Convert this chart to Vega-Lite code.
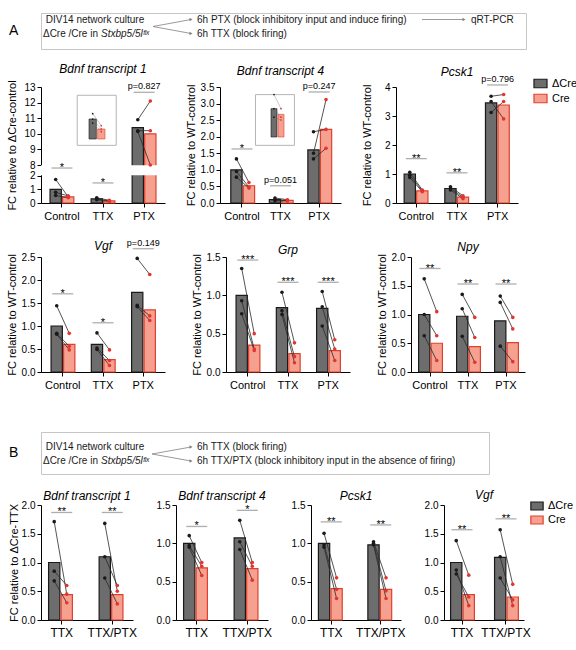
{
"$schema": "https://vega.github.io/schema/vega-lite/v6.json",
"padding": {"left": 5, "top": 12, "right": 2, "bottom": 2},
"background": "white",
"spacing": 0,
"config": {
  "font": "Liberation Sans",
  "view": {"stroke": null},
  "axis": {"grid": false, "domainColor": "#000", "domainWidth": 1, "tickColor": "#000", "tickSize": 4, "labelColor": "#000", "labelFontSize": 10, "titleFontSize": 11, "titleFontWeight": "normal", "titleColor": "#000", "labelPadding": 2, "labelOverlap": false},
  "axisX": {"labelAngle": 0, "labelFontSize": 11, "labelPadding": 3},
  "axisY": {"titlePadding": 2, "minExtent": 22, "maxExtent": 22},
  "title": {"fontSize": 12, "fontStyle": "italic", "fontWeight": "normal", "color": "#000", "offset": 13, "frame": "group"},
  "legend": {"title": null, "symbolType": "M-1,-0.65L1,-0.65L1,0.65L-1,0.65Z", "symbolSize": 170, "symbolStrokeWidth": 1.2, "labelFontSize": 11, "labelColor": "#000", "labelOffset": 4, "rowPadding": 0, "padding": 0, "symbolOpacity": 1}
},
"datasets": {
"bars": [
{"panel":"b1A","condition":"Control","genotype":"ΔCre","value":1.0},
{"panel":"b1A","condition":"Control","genotype":"Cre","value":0.45},
{"panel":"b1A","condition":"TTX","genotype":"ΔCre","value":0.3},
{"panel":"b1A","condition":"TTX","genotype":"Cre","value":0.15},
{"panel":"b1A","condition":"PTX","genotype":"ΔCre","value":10.4},
{"panel":"b1A","condition":"PTX","genotype":"Cre","value":10.0},
{"panel":"b4A","condition":"Control","genotype":"ΔCre","value":1.0},
{"panel":"b4A","condition":"Control","genotype":"Cre","value":0.52},
{"panel":"b4A","condition":"TTX","genotype":"ΔCre","value":0.1},
{"panel":"b4A","condition":"TTX","genotype":"Cre","value":0.08},
{"panel":"b4A","condition":"PTX","genotype":"ΔCre","value":1.6},
{"panel":"b4A","condition":"PTX","genotype":"Cre","value":2.22},
{"panel":"pcA","condition":"Control","genotype":"ΔCre","value":1.0},
{"panel":"pcA","condition":"Control","genotype":"Cre","value":0.42},
{"panel":"pcA","condition":"TTX","genotype":"ΔCre","value":0.5},
{"panel":"pcA","condition":"TTX","genotype":"Cre","value":0.2},
{"panel":"pcA","condition":"PTX","genotype":"ΔCre","value":3.45},
{"panel":"pcA","condition":"PTX","genotype":"Cre","value":3.38},
{"panel":"vgA","condition":"Control","genotype":"ΔCre","value":1.0},
{"panel":"vgA","condition":"Control","genotype":"Cre","value":0.6},
{"panel":"vgA","condition":"TTX","genotype":"ΔCre","value":0.6},
{"panel":"vgA","condition":"TTX","genotype":"Cre","value":0.27},
{"panel":"vgA","condition":"PTX","genotype":"ΔCre","value":1.73},
{"panel":"vgA","condition":"PTX","genotype":"Cre","value":1.35},
{"panel":"grA","condition":"Control","genotype":"ΔCre","value":1.0},
{"panel":"grA","condition":"Control","genotype":"Cre","value":0.35},
{"panel":"grA","condition":"TTX","genotype":"ΔCre","value":0.84},
{"panel":"grA","condition":"TTX","genotype":"Cre","value":0.24},
{"panel":"grA","condition":"PTX","genotype":"ΔCre","value":0.83},
{"panel":"grA","condition":"PTX","genotype":"Cre","value":0.28},
{"panel":"npA","condition":"Control","genotype":"ΔCre","value":1.0},
{"panel":"npA","condition":"Control","genotype":"Cre","value":0.5},
{"panel":"npA","condition":"TTX","genotype":"ΔCre","value":0.97},
{"panel":"npA","condition":"TTX","genotype":"Cre","value":0.44},
{"panel":"npA","condition":"PTX","genotype":"ΔCre","value":0.89},
{"panel":"npA","condition":"PTX","genotype":"Cre","value":0.51},
{"panel":"b1B","condition":"TTX","genotype":"ΔCre","value":1.0},
{"panel":"b1B","condition":"TTX","genotype":"Cre","value":0.44},
{"panel":"b1B","condition":"TTX/PTX","genotype":"ΔCre","value":1.1},
{"panel":"b1B","condition":"TTX/PTX","genotype":"Cre","value":0.44},
{"panel":"b4B","condition":"TTX","genotype":"ΔCre","value":1.0},
{"panel":"b4B","condition":"TTX","genotype":"Cre","value":0.68},
{"panel":"b4B","condition":"TTX/PTX","genotype":"ΔCre","value":1.07},
{"panel":"b4B","condition":"TTX/PTX","genotype":"Cre","value":0.67},
{"panel":"pcB","condition":"TTX","genotype":"ΔCre","value":1.0},
{"panel":"pcB","condition":"TTX","genotype":"Cre","value":0.41},
{"panel":"pcB","condition":"TTX/PTX","genotype":"ΔCre","value":0.98},
{"panel":"pcB","condition":"TTX/PTX","genotype":"Cre","value":0.4},
{"panel":"vgB","condition":"TTX","genotype":"ΔCre","value":1.0},
{"panel":"vgB","condition":"TTX","genotype":"Cre","value":0.44},
{"panel":"vgB","condition":"TTX/PTX","genotype":"ΔCre","value":1.09},
{"panel":"vgB","condition":"TTX/PTX","genotype":"Cre","value":0.4}
],
"dots": [
{"panel":"b1A","condition":"Control","genotype":"ΔCre","replicate":1,"value":1.72},
{"panel":"b1A","condition":"Control","genotype":"ΔCre","replicate":2,"value":0.78},
{"panel":"b1A","condition":"Control","genotype":"ΔCre","replicate":3,"value":0.55},
{"panel":"b1A","condition":"Control","genotype":"Cre","replicate":1,"value":0.45},
{"panel":"b1A","condition":"Control","genotype":"Cre","replicate":2,"value":0.52},
{"panel":"b1A","condition":"Control","genotype":"Cre","replicate":3,"value":0.38},
{"panel":"b1A","condition":"TTX","genotype":"ΔCre","replicate":1,"value":0.38},
{"panel":"b1A","condition":"TTX","genotype":"ΔCre","replicate":2,"value":0.3},
{"panel":"b1A","condition":"TTX","genotype":"ΔCre","replicate":3,"value":0.24},
{"panel":"b1A","condition":"TTX","genotype":"Cre","replicate":1,"value":0.2},
{"panel":"b1A","condition":"TTX","genotype":"Cre","replicate":2,"value":0.15},
{"panel":"b1A","condition":"TTX","genotype":"Cre","replicate":3,"value":0.11},
{"panel":"b1A","condition":"PTX","genotype":"ΔCre","replicate":1,"value":10.9},
{"panel":"b1A","condition":"PTX","genotype":"ΔCre","replicate":2,"value":10.2},
{"panel":"b1A","condition":"PTX","genotype":"ΔCre","replicate":3,"value":10.15},
{"panel":"b1A","condition":"PTX","genotype":"Cre","replicate":1,"value":12.1},
{"panel":"b1A","condition":"PTX","genotype":"Cre","replicate":2,"value":10.2},
{"panel":"b1A","condition":"PTX","genotype":"Cre","replicate":3,"value":8.0},
{"panel":"b4A","condition":"Control","genotype":"ΔCre","replicate":1,"value":1.33},
{"panel":"b4A","condition":"Control","genotype":"ΔCre","replicate":2,"value":0.95},
{"panel":"b4A","condition":"Control","genotype":"ΔCre","replicate":3,"value":0.78},
{"panel":"b4A","condition":"Control","genotype":"Cre","replicate":1,"value":0.62},
{"panel":"b4A","condition":"Control","genotype":"Cre","replicate":2,"value":0.48},
{"panel":"b4A","condition":"Control","genotype":"Cre","replicate":3,"value":0.45},
{"panel":"b4A","condition":"TTX","genotype":"ΔCre","replicate":1,"value":0.15},
{"panel":"b4A","condition":"TTX","genotype":"ΔCre","replicate":2,"value":0.1},
{"panel":"b4A","condition":"TTX","genotype":"ΔCre","replicate":3,"value":0.07},
{"panel":"b4A","condition":"TTX","genotype":"Cre","replicate":1,"value":0.1},
{"panel":"b4A","condition":"TTX","genotype":"Cre","replicate":2,"value":0.07},
{"panel":"b4A","condition":"TTX","genotype":"Cre","replicate":3,"value":0.06},
{"panel":"b4A","condition":"PTX","genotype":"ΔCre","replicate":1,"value":2.15},
{"panel":"b4A","condition":"PTX","genotype":"ΔCre","replicate":2,"value":1.5},
{"panel":"b4A","condition":"PTX","genotype":"ΔCre","replicate":3,"value":1.33},
{"panel":"b4A","condition":"PTX","genotype":"Cre","replicate":1,"value":2.22},
{"panel":"b4A","condition":"PTX","genotype":"Cre","replicate":2,"value":3.12},
{"panel":"b4A","condition":"PTX","genotype":"Cre","replicate":3,"value":1.65},
{"panel":"pcA","condition":"Control","genotype":"ΔCre","replicate":1,"value":1.06},
{"panel":"pcA","condition":"Control","genotype":"ΔCre","replicate":2,"value":0.96},
{"panel":"pcA","condition":"Control","genotype":"ΔCre","replicate":3,"value":0.88},
{"panel":"pcA","condition":"Control","genotype":"Cre","replicate":1,"value":0.45},
{"panel":"pcA","condition":"Control","genotype":"Cre","replicate":2,"value":0.42},
{"panel":"pcA","condition":"Control","genotype":"Cre","replicate":3,"value":0.39},
{"panel":"pcA","condition":"TTX","genotype":"ΔCre","replicate":1,"value":0.56},
{"panel":"pcA","condition":"TTX","genotype":"ΔCre","replicate":2,"value":0.5},
{"panel":"pcA","condition":"TTX","genotype":"ΔCre","replicate":3,"value":0.45},
{"panel":"pcA","condition":"TTX","genotype":"Cre","replicate":1,"value":0.25},
{"panel":"pcA","condition":"TTX","genotype":"Cre","replicate":2,"value":0.2},
{"panel":"pcA","condition":"TTX","genotype":"Cre","replicate":3,"value":0.15},
{"panel":"pcA","condition":"PTX","genotype":"ΔCre","replicate":1,"value":3.68},
{"panel":"pcA","condition":"PTX","genotype":"ΔCre","replicate":2,"value":3.5},
{"panel":"pcA","condition":"PTX","genotype":"ΔCre","replicate":3,"value":3.12},
{"panel":"pcA","condition":"PTX","genotype":"Cre","replicate":1,"value":3.74},
{"panel":"pcA","condition":"PTX","genotype":"Cre","replicate":2,"value":2.9},
{"panel":"pcA","condition":"PTX","genotype":"Cre","replicate":3,"value":3.5},
{"panel":"vgA","condition":"Control","genotype":"ΔCre","replicate":1,"value":1.44},
{"panel":"vgA","condition":"Control","genotype":"ΔCre","replicate":2,"value":0.84},
{"panel":"vgA","condition":"Control","genotype":"ΔCre","replicate":3,"value":0.82},
{"panel":"vgA","condition":"Control","genotype":"Cre","replicate":1,"value":0.84},
{"panel":"vgA","condition":"Control","genotype":"Cre","replicate":2,"value":0.56},
{"panel":"vgA","condition":"Control","genotype":"Cre","replicate":3,"value":0.48},
{"panel":"vgA","condition":"TTX","genotype":"ΔCre","replicate":1,"value":0.85},
{"panel":"vgA","condition":"TTX","genotype":"ΔCre","replicate":2,"value":0.52},
{"panel":"vgA","condition":"TTX","genotype":"ΔCre","replicate":3,"value":0.49},
{"panel":"vgA","condition":"TTX","genotype":"Cre","replicate":1,"value":0.48},
{"panel":"vgA","condition":"TTX","genotype":"Cre","replicate":2,"value":0.25},
{"panel":"vgA","condition":"TTX","genotype":"Cre","replicate":3,"value":0.14},
{"panel":"vgA","condition":"PTX","genotype":"ΔCre","replicate":1,"value":2.47},
{"panel":"vgA","condition":"PTX","genotype":"ΔCre","replicate":2,"value":1.45},
{"panel":"vgA","condition":"PTX","genotype":"ΔCre","replicate":3,"value":1.42},
{"panel":"vgA","condition":"PTX","genotype":"Cre","replicate":1,"value":2.12},
{"panel":"vgA","condition":"PTX","genotype":"Cre","replicate":2,"value":1.22},
{"panel":"vgA","condition":"PTX","genotype":"Cre","replicate":3,"value":1.12},
{"panel":"grA","condition":"Control","genotype":"ΔCre","replicate":1,"value":1.35},
{"panel":"grA","condition":"Control","genotype":"ΔCre","replicate":2,"value":0.93},
{"panel":"grA","condition":"Control","genotype":"ΔCre","replicate":3,"value":0.76},
{"panel":"grA","condition":"Control","genotype":"Cre","replicate":1,"value":0.5},
{"panel":"grA","condition":"Control","genotype":"Cre","replicate":2,"value":0.3},
{"panel":"grA","condition":"Control","genotype":"Cre","replicate":3,"value":0.28},
{"panel":"grA","condition":"TTX","genotype":"ΔCre","replicate":1,"value":1.04},
{"panel":"grA","condition":"TTX","genotype":"ΔCre","replicate":2,"value":0.8},
{"panel":"grA","condition":"TTX","genotype":"ΔCre","replicate":3,"value":0.75},
{"panel":"grA","condition":"TTX","genotype":"Cre","replicate":1,"value":0.38},
{"panel":"grA","condition":"TTX","genotype":"Cre","replicate":2,"value":0.2},
{"panel":"grA","condition":"TTX","genotype":"Cre","replicate":3,"value":0.12},
{"panel":"grA","condition":"PTX","genotype":"ΔCre","replicate":1,"value":1.05},
{"panel":"grA","condition":"PTX","genotype":"ΔCre","replicate":2,"value":0.85},
{"panel":"grA","condition":"PTX","genotype":"ΔCre","replicate":3,"value":0.6},
{"panel":"grA","condition":"PTX","genotype":"Cre","replicate":1,"value":0.42},
{"panel":"grA","condition":"PTX","genotype":"Cre","replicate":2,"value":0.3},
{"panel":"grA","condition":"PTX","genotype":"Cre","replicate":3,"value":0.15},
{"panel":"npA","condition":"Control","genotype":"ΔCre","replicate":1,"value":1.62},
{"panel":"npA","condition":"Control","genotype":"ΔCre","replicate":2,"value":1.0},
{"panel":"npA","condition":"Control","genotype":"ΔCre","replicate":3,"value":0.63},
{"panel":"npA","condition":"Control","genotype":"Cre","replicate":1,"value":1.05},
{"panel":"npA","condition":"Control","genotype":"Cre","replicate":2,"value":0.63},
{"panel":"npA","condition":"Control","genotype":"Cre","replicate":3,"value":0.2},
{"panel":"npA","condition":"TTX","genotype":"ΔCre","replicate":1,"value":1.35},
{"panel":"npA","condition":"TTX","genotype":"ΔCre","replicate":2,"value":1.1},
{"panel":"npA","condition":"TTX","genotype":"ΔCre","replicate":3,"value":0.62},
{"panel":"npA","condition":"TTX","genotype":"Cre","replicate":1,"value":0.95},
{"panel":"npA","condition":"TTX","genotype":"Cre","replicate":2,"value":0.6},
{"panel":"npA","condition":"TTX","genotype":"Cre","replicate":3,"value":0.17},
{"panel":"npA","condition":"PTX","genotype":"ΔCre","replicate":1,"value":1.32},
{"panel":"npA","condition":"PTX","genotype":"ΔCre","replicate":2,"value":1.21},
{"panel":"npA","condition":"PTX","genotype":"ΔCre","replicate":3,"value":0.45},
{"panel":"npA","condition":"PTX","genotype":"Cre","replicate":1,"value":0.95},
{"panel":"npA","condition":"PTX","genotype":"Cre","replicate":2,"value":0.75},
{"panel":"npA","condition":"PTX","genotype":"Cre","replicate":3,"value":0.18},
{"panel":"b1B","condition":"TTX","genotype":"ΔCre","replicate":1,"value":1.71},
{"panel":"b1B","condition":"TTX","genotype":"ΔCre","replicate":2,"value":0.85},
{"panel":"b1B","condition":"TTX","genotype":"ΔCre","replicate":3,"value":0.68},
{"panel":"b1B","condition":"TTX","genotype":"Cre","replicate":1,"value":0.45},
{"panel":"b1B","condition":"TTX","genotype":"Cre","replicate":2,"value":0.6},
{"panel":"b1B","condition":"TTX","genotype":"Cre","replicate":3,"value":0.3},
{"panel":"b1B","condition":"TTX/PTX","genotype":"ΔCre","replicate":1,"value":1.68},
{"panel":"b1B","condition":"TTX/PTX","genotype":"ΔCre","replicate":2,"value":1.1},
{"panel":"b1B","condition":"TTX/PTX","genotype":"ΔCre","replicate":3,"value":0.73},
{"panel":"b1B","condition":"TTX/PTX","genotype":"Cre","replicate":1,"value":0.5},
{"panel":"b1B","condition":"TTX/PTX","genotype":"Cre","replicate":2,"value":0.6},
{"panel":"b1B","condition":"TTX/PTX","genotype":"Cre","replicate":3,"value":0.28},
{"panel":"b4B","condition":"TTX","genotype":"ΔCre","replicate":1,"value":1.1},
{"panel":"b4B","condition":"TTX","genotype":"ΔCre","replicate":2,"value":0.97},
{"panel":"b4B","condition":"TTX","genotype":"ΔCre","replicate":3,"value":0.95},
{"panel":"b4B","condition":"TTX","genotype":"Cre","replicate":1,"value":0.75},
{"panel":"b4B","condition":"TTX","genotype":"Cre","replicate":2,"value":0.7},
{"panel":"b4B","condition":"TTX","genotype":"Cre","replicate":3,"value":0.58},
{"panel":"b4B","condition":"TTX/PTX","genotype":"ΔCre","replicate":1,"value":1.3},
{"panel":"b4B","condition":"TTX/PTX","genotype":"ΔCre","replicate":2,"value":1.02},
{"panel":"b4B","condition":"TTX/PTX","genotype":"ΔCre","replicate":3,"value":0.92},
{"panel":"b4B","condition":"TTX/PTX","genotype":"Cre","replicate":1,"value":0.75},
{"panel":"b4B","condition":"TTX/PTX","genotype":"Cre","replicate":2,"value":0.7},
{"panel":"b4B","condition":"TTX/PTX","genotype":"Cre","replicate":3,"value":0.52},
{"panel":"pcB","condition":"TTX","genotype":"ΔCre","replicate":1,"value":1.13},
{"panel":"pcB","condition":"TTX","genotype":"ΔCre","replicate":2,"value":0.98},
{"panel":"pcB","condition":"TTX","genotype":"ΔCre","replicate":3,"value":0.95},
{"panel":"pcB","condition":"TTX","genotype":"Cre","replicate":1,"value":0.55},
{"panel":"pcB","condition":"TTX","genotype":"Cre","replicate":2,"value":0.4},
{"panel":"pcB","condition":"TTX","genotype":"Cre","replicate":3,"value":0.28},
{"panel":"pcB","condition":"TTX/PTX","genotype":"ΔCre","replicate":1,"value":1.02},
{"panel":"pcB","condition":"TTX/PTX","genotype":"ΔCre","replicate":2,"value":1.0},
{"panel":"pcB","condition":"TTX/PTX","genotype":"ΔCre","replicate":3,"value":0.98},
{"panel":"pcB","condition":"TTX/PTX","genotype":"Cre","replicate":1,"value":0.55},
{"panel":"pcB","condition":"TTX/PTX","genotype":"Cre","replicate":2,"value":0.38},
{"panel":"pcB","condition":"TTX/PTX","genotype":"Cre","replicate":3,"value":0.28},
{"panel":"vgB","condition":"TTX","genotype":"ΔCre","replicate":1,"value":1.38},
{"panel":"vgB","condition":"TTX","genotype":"ΔCre","replicate":2,"value":0.87},
{"panel":"vgB","condition":"TTX","genotype":"ΔCre","replicate":3,"value":0.8},
{"panel":"vgB","condition":"TTX","genotype":"Cre","replicate":1,"value":0.78},
{"panel":"vgB","condition":"TTX","genotype":"Cre","replicate":2,"value":0.25},
{"panel":"vgB","condition":"TTX","genotype":"Cre","replicate":3,"value":0.4},
{"panel":"vgB","condition":"TTX/PTX","genotype":"ΔCre","replicate":1,"value":1.57},
{"panel":"vgB","condition":"TTX/PTX","genotype":"ΔCre","replicate":2,"value":1.1},
{"panel":"vgB","condition":"TTX/PTX","genotype":"ΔCre","replicate":3,"value":0.73},
{"panel":"vgB","condition":"TTX/PTX","genotype":"Cre","replicate":1,"value":0.62},
{"panel":"vgB","condition":"TTX/PTX","genotype":"Cre","replicate":2,"value":0.25},
{"panel":"vgB","condition":"TTX/PTX","genotype":"Cre","replicate":3,"value":0.35}
],
"sig": [
{"panel":"b1A","condition":"Control","level":6.3,"label":"*"},
{"panel":"b1A","condition":"TTX","level":1.47,"label":"*"},
{"panel":"b1A","condition":"PTX","level":12.66,"label":"p=0.827"},
{"panel":"b4A","condition":"Control","level":1.63,"label":"*"},
{"panel":"b4A","condition":"TTX","level":0.52,"label":"p=0.051"},
{"panel":"b4A","condition":"PTX","level":3.35,"label":"p=0.247"},
{"panel":"pcA","condition":"Control","level":1.53,"label":"**"},
{"panel":"pcA","condition":"TTX","level":1.04,"label":"**"},
{"panel":"pcA","condition":"PTX","level":4.07,"label":"p=0.796"},
{"panel":"vgA","condition":"Control","level":1.7,"label":"*"},
{"panel":"vgA","condition":"TTX","level":1.07,"label":"*"},
{"panel":"vgA","condition":"PTX","level":2.68,"label":"p=0.149"},
{"panel":"grA","condition":"Control","level":1.46,"label":"***"},
{"panel":"grA","condition":"TTX","level":1.17,"label":"***"},
{"panel":"grA","condition":"PTX","level":1.17,"label":"***"},
{"panel":"npA","condition":"Control","level":1.8,"label":"**"},
{"panel":"npA","condition":"TTX","level":1.53,"label":"**"},
{"panel":"npA","condition":"PTX","level":1.53,"label":"**"},
{"panel":"b1B","condition":"TTX","level":1.87,"label":"**"},
{"panel":"b1B","condition":"TTX/PTX","level":1.87,"label":"**"},
{"panel":"b4B","condition":"TTX","level":1.22,"label":"*"},
{"panel":"b4B","condition":"TTX/PTX","level":1.43,"label":"*"},
{"panel":"pcB","condition":"TTX","level":1.28,"label":"**"},
{"panel":"pcB","condition":"TTX/PTX","level":1.24,"label":"**"},
{"panel":"vgB","condition":"TTX","level":1.57,"label":"**"},
{"panel":"vgB","condition":"TTX/PTX","level":1.76,"label":"**"}
]
},
"resolve": {"scale": {"x": "independent", "y": "independent", "fill": "independent", "stroke": "independent", "color": "independent"}, "legend": {"fill": "independent", "stroke": "independent", "color": "independent"}},
"vconcat": [
{
  "width": 485, "height": 36,
  "view": {"stroke": "#c6c6c6", "strokeWidth": 1},
  "title": {"text": "A", "orient": "left", "angle": 0, "baseline": "middle", "anchor": "middle", "fontSize": 14, "fontStyle": "normal", "offset": 18},
  "resolve": {"scale": {"x": "independent"}},
  "layer": [
    {"layer": [
      {"data": {"values": [{"branch":"PTX","step":"from","lane":"mid"},{"branch":"PTX","step":"to","lane":"line1"},{"branch":"TTX","step":"from","lane":"mid"},{"branch":"TTX","step":"to","lane":"line2"}]},
       "mark": {"type": "line", "color": "#808080", "strokeWidth": 0.8},
       "encoding": {"x": {"field": "step", "type": "nominal", "scale": {"domain": ["from","to"], "range": [112,150], "padding": 0}, "axis": null},
                    "y": {"field": "lane", "type": "nominal", "scale": {"domain": ["line1","mid","line2"], "range": [6.5,20.5], "padding": 0}, "axis": null},
                    "detail": {"field": "branch", "type": "nominal"}}},
      {"data": {"values": [{"step":"to","lane":"line1"},{"step":"to","lane":"line2"}]},
       "mark": {"type": "point", "shape": "triangle-right", "filled": true, "size": 12, "color": "#808080", "opacity": 1},
       "encoding": {"x": {"field": "step", "type": "nominal"}, "y": {"field": "lane", "type": "nominal"}}},
      {"data": {"values": [{"step":"from","lane":"line1","text":"DIV14 network culture"}]},
       "mark": {"type": "text", "align": "center", "baseline": "middle", "dx": -58, "fontSize": 10, "color": "#1a1a1a"},
       "encoding": {"x": {"field": "step", "type": "nominal"}, "y": {"field": "lane", "type": "nominal"}, "text": {"field": "text"}}},
      {"data": {"values": [{"step":"from","lane":"line2","text":"ΔCre /Cre in"}]},
       "mark": {"type": "text", "align": "right", "baseline": "middle", "dx": -55, "fontSize": 10, "color": "#1a1a1a"},
       "encoding": {"x": {"field": "step", "type": "nominal"}, "y": {"field": "lane", "type": "nominal"}, "text": {"field": "text"}}},
      {"data": {"values": [{"step":"from","lane":"line2","text":"Stxbp5/5lᶠˡˣ"}]},
       "mark": {"type": "text", "align": "left", "baseline": "middle", "dx": -52, "fontSize": 10, "fontStyle": "italic", "color": "#1a1a1a"},
       "encoding": {"x": {"field": "step", "type": "nominal"}, "y": {"field": "lane", "type": "nominal"}, "text": {"field": "text"}}},
      {"data": {"values": [{"step":"to","lane":"line1","text":"6h PTX (block inhibitory input and induce firing)"},{"step":"to","lane":"line2","text":"6h TTX (block firing)"}]},
       "mark": {"type": "text", "align": "left", "baseline": "middle", "dx": 6, "fontSize": 10, "color": "#1a1a1a"},
       "encoding": {"x": {"field": "step", "type": "nominal"}, "y": {"field": "lane", "type": "nominal"}, "text": {"field": "text"}}}
    ]},
    {"layer": [
      {"data": {"values": [{"step":"from","lane":"line1"},{"step":"to","lane":"line1"}]},
       "mark": {"type": "line", "color": "#808080", "strokeWidth": 0.8},
       "encoding": {"x": {"field": "step", "type": "nominal", "scale": {"domain": ["from","to"], "range": [381,423], "padding": 0}, "axis": null},
                    "y": {"field": "lane", "type": "nominal"}}},
      {"data": {"values": [{"step":"to","lane":"line1"}]},
       "mark": {"type": "point", "shape": "triangle-right", "filled": true, "size": 12, "color": "#808080", "opacity": 1},
       "encoding": {"x": {"field": "step", "type": "nominal"}, "y": {"field": "lane", "type": "nominal"}}},
      {"data": {"values": [{"step":"to","lane":"line1","text":"qRT-PCR"}]},
       "mark": {"type": "text", "align": "left", "baseline": "middle", "dx": 7, "fontSize": 10, "color": "#1a1a1a"},
       "encoding": {"x": {"field": "step", "type": "nominal"}, "y": {"field": "lane", "type": "nominal"}, "text": {"field": "text"}}}
    ]}
  ]
},
{"width": 1, "height": 5, "data": {"values": [{}]}, "mark": {"type": "text", "text": ""}, "encoding": {}},
{
  "hconcat": [
    {
      "width": 124, "height": 116,
      "title": {"text": "Bdnf transcript 1", "offset": 4},
      "resolve": {"scale": {"x": "independent", "y": "independent"}},
      "layer": [
       {"layer": [
        {"data": {"name": "bars"}, "transform": [{"filter": "datum.panel === 'b1A'"}],
         "mark": {"type": "bar", "strokeWidth": 1.2},
         "encoding": {
           "x": {"field": "condition", "type": "nominal", "scale": {"domain": ["Control","TTX","PTX"], "paddingInner": 0.42, "paddingOuter": 0.22}, "axis": {"title": null, "labelOverlap": false}},
           "xOffset": {"field": "genotype", "type": "nominal", "scale": {"domain": ["ΔCre","Cre"], "paddingInner": 0.1}},
           "y": {"field": "value", "type": "quantitative", "scale": {"domain": [0,2,8,13], "range": [116,88.7,78,0], "nice": false, "zero": false}, "axis": {"values": [0,1,2,8,9,10,11,12,13], "tickCount": 20, "format": "d", "labelOverlap": false, "title": "FC relative to ΔCre-control"}},
           "fill": {"field": "genotype", "type": "nominal", "scale": {"domain": ["ΔCre","Cre"], "range": ["#6d6d6d","#f6a08f"]}, "legend": null},
           "stroke": {"field": "genotype", "type": "nominal", "scale": {"domain": ["ΔCre","Cre"], "range": ["#1a1a1a","#e0402e"]}, "legend": null}}},
        {"data": {"values": [{}]}, "mark": {"type": "rect", "color": "white"}, "encoding": {"y": {"datum": 2.2}, "y2": {"datum": 7.8}}},
        {"data": {"values": [{}]}, "mark": {"type": "bar", "width": 39, "fill": "white", "stroke": "#b5b5b5", "strokeWidth": 1},
         "encoding": {"x": {"datum": "TTX", "type": "nominal"}, "xOffset": {"datum": "ΔCre", "type": "nominal"}, "y": {"datum": 12.47}, "y2": {"datum": 9.26}}},
        {"data": {"name": "dots"}, "transform": [{"filter": "datum.panel === 'b1A'"}],
         "mark": {"type": "line", "color": "#2a2a2a", "strokeWidth": 0.8},
         "encoding": {"x": {"field": "condition", "type": "nominal"}, "xOffset": {"field": "genotype", "type": "nominal"}, "y": {"field": "value", "type": "quantitative"}, "detail": [{"field": "condition", "type": "nominal"}, {"field": "replicate", "type": "nominal"}]}},
        {"data": {"name": "dots"}, "transform": [{"filter": "datum.panel === 'b1A'"}],
         "mark": {"type": "circle", "size": 13, "opacity": 1},
         "encoding": {"x": {"field": "condition", "type": "nominal"}, "xOffset": {"field": "genotype", "type": "nominal"}, "y": {"field": "value", "type": "quantitative"}, "color": {"field": "genotype", "type": "nominal", "scale": {"domain": ["ΔCre","Cre"], "range": ["#1a1a1a","#e3342f"]}, "legend": null}}},
        {"data": {"name": "sig"}, "transform": [{"filter": "datum.panel === 'b1A'"}],
         "mark": {"type": "tick", "orient": "horizontal", "size": 21, "thickness": 1.3, "color": "#8c8c8c"},
         "encoding": {"x": {"field": "condition", "type": "nominal"}, "y": {"field": "level", "type": "quantitative"}}},
        {"data": {"name": "sig"}, "transform": [{"filter": "datum.panel === 'b1A' && indexof(datum.label, 'p') !== 0"}],
         "mark": {"type": "text", "baseline": "alphabetic", "dy": 3, "fontSize": 11},
         "encoding": {"x": {"field": "condition", "type": "nominal"}, "y": {"field": "level", "type": "quantitative"}, "text": {"field": "label"}}},
        {"data": {"name": "sig"}, "transform": [{"filter": "datum.panel === 'b1A' && indexof(datum.label, 'p') === 0"}],
         "mark": {"type": "text", "baseline": "bottom", "dy": -1, "fontSize": 9},
         "encoding": {"x": {"field": "condition", "type": "nominal"}, "y": {"field": "level", "type": "quantitative"}, "text": {"field": "label"}}}
       ]},
       {"layer": [
        {"data": {"name": "bars"}, "transform": [{"filter": "datum.panel === 'b1A' && datum.condition === 'TTX'"}],
         "mark": {"type": "bar", "strokeWidth": 0.6},
         "encoding": {
           "x": {"field": "genotype", "type": "nominal", "scale": {"domain": ["ΔCre","Cre"], "range": [48,64], "paddingInner": 0.15, "paddingOuter": 0}, "axis": null},
           "y": {"field": "value", "type": "quantitative", "scale": {"domain": [0,0.5], "range": [52,18.7], "nice": false}, "axis": null},
           "fill": {"field": "genotype", "type": "nominal", "legend": null},
           "stroke": {"field": "genotype", "type": "nominal", "legend": null}}},
        {"data": {"name": "dots"}, "transform": [{"filter": "datum.panel === 'b1A' && datum.condition === 'TTX'"}],
         "mark": {"type": "line", "color": "#777", "strokeWidth": 0.4},
         "encoding": {"x": {"field": "genotype", "type": "nominal"}, "y": {"field": "value", "type": "quantitative"}, "detail": {"field": "replicate", "type": "nominal"}}},
        {"data": {"name": "dots"}, "transform": [{"filter": "datum.panel === 'b1A' && datum.condition === 'TTX'"}],
         "mark": {"type": "circle", "size": 3, "opacity": 1},
         "encoding": {"x": {"field": "genotype", "type": "nominal"}, "y": {"field": "value", "type": "quantitative"}, "color": {"field": "genotype", "type": "nominal", "legend": null}}}
       ]}
      ]
    },
    {
      "width": 121, "height": 116,
      "title": {"text": "Bdnf transcript 4", "offset": 4},
      "resolve": {"scale": {"x": "independent", "y": "independent"}},
      "layer": [
       {"layer": [
        {"data": {"name": "bars"}, "transform": [{"filter": "datum.panel === 'b4A'"}],
         "mark": {"type": "bar", "strokeWidth": 1.2},
         "encoding": {
           "x": {"field": "condition", "type": "nominal", "scale": {"domain": ["Control","TTX","PTX"], "paddingInner": 0.42, "paddingOuter": 0.28}, "axis": {"title": null, "labelOverlap": false}},
           "xOffset": {"field": "genotype", "type": "nominal", "scale": {"domain": ["ΔCre","Cre"], "paddingInner": 0.1}},
           "y": {"field": "value", "type": "quantitative", "scale": {"domain": [0,3.5], "nice": false}, "axis": {"values": [0,0.5,1,1.5,2,2.5,3,3.5], "tickCount": 20, "labelOverlap": false, "format": ".1f", "title": "FC relative to WT-control"}},
           "fill": {"field": "genotype", "type": "nominal", "scale": {"domain": ["ΔCre","Cre"], "range": ["#6d6d6d","#f6a08f"]}, "legend": null},
           "stroke": {"field": "genotype", "type": "nominal", "scale": {"domain": ["ΔCre","Cre"], "range": ["#1a1a1a","#e0402e"]}, "legend": null}}},
        {"data": {"values": [{}]}, "mark": {"type": "bar", "width": 39, "fill": "white", "stroke": "#b5b5b5", "strokeWidth": 1},
         "encoding": {"x": {"datum": "TTX", "type": "nominal"}, "xOffset": {"datum": "ΔCre", "type": "nominal"}, "y": {"datum": 3.27}, "y2": {"datum": 1.74}}},
        {"data": {"name": "dots"}, "transform": [{"filter": "datum.panel === 'b4A'"}],
         "mark": {"type": "line", "color": "#2a2a2a", "strokeWidth": 0.8},
         "encoding": {"x": {"field": "condition", "type": "nominal"}, "xOffset": {"field": "genotype", "type": "nominal"}, "y": {"field": "value", "type": "quantitative"}, "detail": [{"field": "condition", "type": "nominal"}, {"field": "replicate", "type": "nominal"}]}},
        {"data": {"name": "dots"}, "transform": [{"filter": "datum.panel === 'b4A'"}],
         "mark": {"type": "circle", "size": 13, "opacity": 1},
         "encoding": {"x": {"field": "condition", "type": "nominal"}, "xOffset": {"field": "genotype", "type": "nominal"}, "y": {"field": "value", "type": "quantitative"}, "color": {"field": "genotype", "type": "nominal", "scale": {"domain": ["ΔCre","Cre"], "range": ["#1a1a1a","#e3342f"]}, "legend": null}}},
        {"data": {"name": "sig"}, "transform": [{"filter": "datum.panel === 'b4A'"}],
         "mark": {"type": "tick", "orient": "horizontal", "size": 21, "thickness": 1.3, "color": "#8c8c8c"},
         "encoding": {"x": {"field": "condition", "type": "nominal"}, "y": {"field": "level", "type": "quantitative"}}},
        {"data": {"name": "sig"}, "transform": [{"filter": "datum.panel === 'b4A' && indexof(datum.label, 'p') !== 0"}],
         "mark": {"type": "text", "baseline": "alphabetic", "dy": 3, "fontSize": 11},
         "encoding": {"x": {"field": "condition", "type": "nominal"}, "y": {"field": "level", "type": "quantitative"}, "text": {"field": "label"}}},
        {"data": {"name": "sig"}, "transform": [{"filter": "datum.panel === 'b4A' && indexof(datum.label, 'p') === 0"}],
         "mark": {"type": "text", "baseline": "bottom", "dy": -1, "fontSize": 9},
         "encoding": {"x": {"field": "condition", "type": "nominal"}, "y": {"field": "level", "type": "quantitative"}, "text": {"field": "label"}}}
       ]},
       {"layer": [
        {"data": {"name": "bars"}, "transform": [{"filter": "datum.panel === 'b4A' && datum.condition === 'TTX'"}],
         "mark": {"type": "bar", "strokeWidth": 0.6},
         "encoding": {
           "x": {"field": "genotype", "type": "nominal", "scale": {"domain": ["ΔCre","Cre"], "range": [51,64], "paddingInner": 0.15, "paddingOuter": 0}, "axis": null},
           "y": {"field": "value", "type": "quantitative", "scale": {"domain": [0,0.12], "range": [50,16], "nice": false}, "axis": null},
           "fill": {"field": "genotype", "type": "nominal", "legend": null},
           "stroke": {"field": "genotype", "type": "nominal", "legend": null}}},
        {"data": {"name": "dots"}, "transform": [{"filter": "datum.panel === 'b4A' && datum.condition === 'TTX'"}],
         "mark": {"type": "line", "color": "#777", "strokeWidth": 0.4},
         "encoding": {"x": {"field": "genotype", "type": "nominal"}, "y": {"field": "value", "type": "quantitative"}, "detail": {"field": "replicate", "type": "nominal"}}},
        {"data": {"name": "dots"}, "transform": [{"filter": "datum.panel === 'b4A' && datum.condition === 'TTX'"}],
         "mark": {"type": "circle", "size": 3, "opacity": 1},
         "encoding": {"x": {"field": "genotype", "type": "nominal"}, "y": {"field": "value", "type": "quantitative"}, "color": {"field": "genotype", "type": "nominal", "legend": null}}}
       ]}
      ]
    },
    {
      "width": 122, "height": 116,
      "title": {"text": "Pcsk1", "offset": -4},
      "layer": [
        {"data": {"name": "bars"}, "transform": [{"filter": "datum.panel === 'pcA'"}],
         "mark": {"type": "bar", "strokeWidth": 1.2},
         "encoding": {
           "x": {"field": "condition", "type": "nominal", "scale": {"domain": ["Control","TTX","PTX"], "paddingInner": 0.4, "paddingOuter": 0.2}, "axis": {"title": null, "labelOverlap": false}},
           "xOffset": {"field": "genotype", "type": "nominal", "scale": {"domain": ["ΔCre","Cre"], "paddingInner": 0.15}},
           "y": {"field": "value", "type": "quantitative", "scale": {"domain": [0,4], "nice": false}, "axis": {"values": [0,1,2,3,4], "tickCount": 20, "format": "d", "labelOverlap": false, "title": "FC relative to WT-control"}},
           "fill": {"field": "genotype", "type": "nominal", "scale": {"domain": ["ΔCre","Cre"], "range": ["#6d6d6d","#f6a08f"]}, "legend": {"orient": "none", "legendX": 137, "legendY": -11, "rowPadding": -2}},
           "stroke": {"field": "genotype", "type": "nominal", "scale": {"domain": ["ΔCre","Cre"], "range": ["#1a1a1a","#e0402e"]}, "legend": {"orient": "none", "legendX": 137, "legendY": -11, "rowPadding": -2}}}},
        {"data": {"name": "dots"}, "transform": [{"filter": "datum.panel === 'pcA'"}],
         "mark": {"type": "line", "color": "#2a2a2a", "strokeWidth": 0.8},
         "encoding": {"x": {"field": "condition", "type": "nominal"}, "xOffset": {"field": "genotype", "type": "nominal"}, "y": {"field": "value", "type": "quantitative"}, "detail": [{"field": "condition", "type": "nominal"}, {"field": "replicate", "type": "nominal"}]}},
        {"data": {"name": "dots"}, "transform": [{"filter": "datum.panel === 'pcA'"}],
         "mark": {"type": "circle", "size": 13, "opacity": 1},
         "encoding": {"x": {"field": "condition", "type": "nominal"}, "xOffset": {"field": "genotype", "type": "nominal"}, "y": {"field": "value", "type": "quantitative"}, "color": {"field": "genotype", "type": "nominal", "scale": {"domain": ["ΔCre","Cre"], "range": ["#1a1a1a","#e3342f"]}, "legend": null}}},
        {"data": {"name": "sig"}, "transform": [{"filter": "datum.panel === 'pcA'"}],
         "mark": {"type": "tick", "orient": "horizontal", "size": 21, "thickness": 1.3, "color": "#8c8c8c"},
         "encoding": {"x": {"field": "condition", "type": "nominal"}, "y": {"field": "level", "type": "quantitative"}}},
        {"data": {"name": "sig"}, "transform": [{"filter": "datum.panel === 'pcA' && indexof(datum.label, 'p') !== 0"}],
         "mark": {"type": "text", "baseline": "alphabetic", "dy": 3, "fontSize": 11},
         "encoding": {"x": {"field": "condition", "type": "nominal"}, "y": {"field": "level", "type": "quantitative"}, "text": {"field": "label"}}},
        {"data": {"name": "sig"}, "transform": [{"filter": "datum.panel === 'pcA' && indexof(datum.label, 'p') === 0"}],
         "mark": {"type": "text", "baseline": "bottom", "dy": -1, "fontSize": 9},
         "encoding": {"x": {"field": "condition", "type": "nominal"}, "y": {"field": "level", "type": "quantitative"}, "text": {"field": "label"}}}
      ]
    }
  ],
  "spacing": 55,
  "bounds": "flush",
  "resolve": {"scale": {"x": "independent", "y": "independent", "fill": "independent", "stroke": "independent", "color": "independent"}, "legend": {"fill": "independent", "stroke": "independent", "color": "independent"}}
},
{"width": 1, "height": 17, "data": {"values": [{}]}, "mark": {"type": "text", "text": ""}, "encoding": {}},
{
  "hconcat": [
    {
      "width": 124, "height": 115,
      "title": {"text": "Vgf", "offset": -14},
      "layer": [
        {"data": {"name": "bars"}, "transform": [{"filter": "datum.panel === 'vgA'"}],
         "mark": {"type": "bar", "strokeWidth": 1.2},
         "encoding": {
           "x": {"field": "condition", "type": "nominal", "scale": {"domain": ["Control","TTX","PTX"], "paddingInner": 0.42, "paddingOuter": 0.25}, "axis": {"title": null, "labelOverlap": false}},
           "xOffset": {"field": "genotype", "type": "nominal", "scale": {"domain": ["ΔCre","Cre"], "paddingInner": 0.15}},
           "y": {"field": "value", "type": "quantitative", "scale": {"domain": [0,2.5], "nice": false}, "axis": {"values": [0,0.5,1,1.5,2,2.5], "tickCount": 20, "labelOverlap": false, "format": ".1f", "title": "FC relative to WT-control"}},
           "fill": {"field": "genotype", "type": "nominal", "scale": {"domain": ["ΔCre","Cre"], "range": ["#6d6d6d","#f6a08f"]}, "legend": null},
           "stroke": {"field": "genotype", "type": "nominal", "scale": {"domain": ["ΔCre","Cre"], "range": ["#1a1a1a","#e0402e"]}, "legend": null}}},
        {"data": {"name": "dots"}, "transform": [{"filter": "datum.panel === 'vgA'"}],
         "mark": {"type": "line", "color": "#2a2a2a", "strokeWidth": 0.8},
         "encoding": {"x": {"field": "condition", "type": "nominal"}, "xOffset": {"field": "genotype", "type": "nominal"}, "y": {"field": "value", "type": "quantitative"}, "detail": [{"field": "condition", "type": "nominal"}, {"field": "replicate", "type": "nominal"}]}},
        {"data": {"name": "dots"}, "transform": [{"filter": "datum.panel === 'vgA'"}],
         "mark": {"type": "circle", "size": 13, "opacity": 1},
         "encoding": {"x": {"field": "condition", "type": "nominal"}, "xOffset": {"field": "genotype", "type": "nominal"}, "y": {"field": "value", "type": "quantitative"}, "color": {"field": "genotype", "type": "nominal", "scale": {"domain": ["ΔCre","Cre"], "range": ["#1a1a1a","#e3342f"]}, "legend": null}}},
        {"data": {"name": "sig"}, "transform": [{"filter": "datum.panel === 'vgA'"}],
         "mark": {"type": "tick", "orient": "horizontal", "size": 21, "thickness": 1.3, "color": "#8c8c8c"},
         "encoding": {"x": {"field": "condition", "type": "nominal"}, "y": {"field": "level", "type": "quantitative"}}},
        {"data": {"name": "sig"}, "transform": [{"filter": "datum.panel === 'vgA' && indexof(datum.label, 'p') !== 0"}],
         "mark": {"type": "text", "baseline": "alphabetic", "dy": 3, "fontSize": 11},
         "encoding": {"x": {"field": "condition", "type": "nominal"}, "y": {"field": "level", "type": "quantitative"}, "text": {"field": "label"}}},
        {"data": {"name": "sig"}, "transform": [{"filter": "datum.panel === 'vgA' && indexof(datum.label, 'p') === 0"}],
         "mark": {"type": "text", "baseline": "bottom", "dy": -1, "fontSize": 9},
         "encoding": {"x": {"field": "condition", "type": "nominal"}, "y": {"field": "level", "type": "quantitative"}, "text": {"field": "label"}}}
      ]
    },
    {
      "width": 124, "height": 115,
      "title": {"text": "Grp", "offset": -5},
      "layer": [
        {"data": {"name": "bars"}, "transform": [{"filter": "datum.panel === 'grA'"}],
         "mark": {"type": "bar", "strokeWidth": 1.2},
         "encoding": {
           "x": {"field": "condition", "type": "nominal", "scale": {"domain": ["Control","TTX","PTX"], "paddingInner": 0.42, "paddingOuter": 0.25}, "axis": {"title": null, "labelOverlap": false}},
           "xOffset": {"field": "genotype", "type": "nominal", "scale": {"domain": ["ΔCre","Cre"], "paddingInner": 0.15}},
           "y": {"field": "value", "type": "quantitative", "scale": {"domain": [0,1.5], "nice": false}, "axis": {"values": [0,0.5,1,1.5], "tickCount": 20, "labelOverlap": false, "format": ".1f", "title": "FC relative to WT-control"}},
           "fill": {"field": "genotype", "type": "nominal", "scale": {"domain": ["ΔCre","Cre"], "range": ["#6d6d6d","#f6a08f"]}, "legend": null},
           "stroke": {"field": "genotype", "type": "nominal", "scale": {"domain": ["ΔCre","Cre"], "range": ["#1a1a1a","#e0402e"]}, "legend": null}}},
        {"data": {"name": "dots"}, "transform": [{"filter": "datum.panel === 'grA'"}],
         "mark": {"type": "line", "color": "#2a2a2a", "strokeWidth": 0.8},
         "encoding": {"x": {"field": "condition", "type": "nominal"}, "xOffset": {"field": "genotype", "type": "nominal"}, "y": {"field": "value", "type": "quantitative"}, "detail": [{"field": "condition", "type": "nominal"}, {"field": "replicate", "type": "nominal"}]}},
        {"data": {"name": "dots"}, "transform": [{"filter": "datum.panel === 'grA'"}],
         "mark": {"type": "circle", "size": 13, "opacity": 1},
         "encoding": {"x": {"field": "condition", "type": "nominal"}, "xOffset": {"field": "genotype", "type": "nominal"}, "y": {"field": "value", "type": "quantitative"}, "color": {"field": "genotype", "type": "nominal", "scale": {"domain": ["ΔCre","Cre"], "range": ["#1a1a1a","#e3342f"]}, "legend": null}}},
        {"data": {"name": "sig"}, "transform": [{"filter": "datum.panel === 'grA'"}],
         "mark": {"type": "tick", "orient": "horizontal", "size": 21, "thickness": 1.3, "color": "#8c8c8c"},
         "encoding": {"x": {"field": "condition", "type": "nominal"}, "y": {"field": "level", "type": "quantitative"}}},
        {"data": {"name": "sig"}, "transform": [{"filter": "datum.panel === 'grA' && indexof(datum.label, 'p') !== 0"}],
         "mark": {"type": "text", "baseline": "alphabetic", "dy": 3, "fontSize": 11},
         "encoding": {"x": {"field": "condition", "type": "nominal"}, "y": {"field": "level", "type": "quantitative"}, "text": {"field": "label"}}}
      ]
    },
    {
      "width": 114, "height": 115,
      "title": {"text": "Npy", "offset": -2},
      "layer": [
        {"data": {"name": "bars"}, "transform": [{"filter": "datum.panel === 'npA'"}],
         "mark": {"type": "bar", "strokeWidth": 1.2},
         "encoding": {
           "x": {"field": "condition", "type": "nominal", "scale": {"domain": ["Control","TTX","PTX"], "paddingInner": 0.4, "paddingOuter": 0.2}, "axis": {"title": null, "labelOverlap": false}},
           "xOffset": {"field": "genotype", "type": "nominal", "scale": {"domain": ["ΔCre","Cre"], "paddingInner": 0.3}},
           "y": {"field": "value", "type": "quantitative", "scale": {"domain": [0,2], "nice": false}, "axis": {"values": [0,0.5,1,1.5,2], "tickCount": 20, "labelOverlap": false, "format": ".1f", "title": "FC relative to WT-control"}},
           "fill": {"field": "genotype", "type": "nominal", "scale": {"domain": ["ΔCre","Cre"], "range": ["#6d6d6d","#f6a08f"]}, "legend": null},
           "stroke": {"field": "genotype", "type": "nominal", "scale": {"domain": ["ΔCre","Cre"], "range": ["#1a1a1a","#e0402e"]}, "legend": null}}},
        {"data": {"name": "dots"}, "transform": [{"filter": "datum.panel === 'npA'"}],
         "mark": {"type": "line", "color": "#2a2a2a", "strokeWidth": 0.8},
         "encoding": {"x": {"field": "condition", "type": "nominal"}, "xOffset": {"field": "genotype", "type": "nominal"}, "y": {"field": "value", "type": "quantitative"}, "detail": [{"field": "condition", "type": "nominal"}, {"field": "replicate", "type": "nominal"}]}},
        {"data": {"name": "dots"}, "transform": [{"filter": "datum.panel === 'npA'"}],
         "mark": {"type": "circle", "size": 13, "opacity": 1},
         "encoding": {"x": {"field": "condition", "type": "nominal"}, "xOffset": {"field": "genotype", "type": "nominal"}, "y": {"field": "value", "type": "quantitative"}, "color": {"field": "genotype", "type": "nominal", "scale": {"domain": ["ΔCre","Cre"], "range": ["#1a1a1a","#e3342f"]}, "legend": null}}},
        {"data": {"name": "sig"}, "transform": [{"filter": "datum.panel === 'npA'"}],
         "mark": {"type": "tick", "orient": "horizontal", "size": 21, "thickness": 1.3, "color": "#8c8c8c"},
         "encoding": {"x": {"field": "condition", "type": "nominal"}, "y": {"field": "level", "type": "quantitative"}}},
        {"data": {"name": "sig"}, "transform": [{"filter": "datum.panel === 'npA' && indexof(datum.label, 'p') !== 0"}],
         "mark": {"type": "text", "baseline": "alphabetic", "dy": 3, "fontSize": 11},
         "encoding": {"x": {"field": "condition", "type": "nominal"}, "y": {"field": "level", "type": "quantitative"}, "text": {"field": "label"}}}
      ]
    }
  ],
  "spacing": 61,
  "bounds": "flush",
  "resolve": {"scale": {"x": "independent", "y": "independent", "fill": "independent", "stroke": "independent", "color": "independent"}, "legend": {"fill": "independent", "stroke": "independent", "color": "independent"}}
},
{"width": 1, "height": 41, "data": {"values": [{}]}, "mark": {"type": "text", "text": ""}, "encoding": {}},
{
  "width": 448, "height": 42,
  "view": {"stroke": "#c6c6c6", "strokeWidth": 1},
  "title": {"text": "B", "orient": "left", "angle": 0, "baseline": "middle", "anchor": "middle", "fontSize": 14, "fontStyle": "normal", "offset": 18},
  "layer": [
    {"data": {"values": [{"branch":"TTX","step":"from","lane":"mid"},{"branch":"TTX","step":"to","lane":"line1"},{"branch":"TTXPTX","step":"from","lane":"mid"},{"branch":"TTXPTX","step":"to","lane":"line2"}]},
     "mark": {"type": "line", "color": "#808080", "strokeWidth": 0.8},
     "encoding": {"x": {"field": "step", "type": "nominal", "scale": {"domain": ["from","to"], "range": [111,150], "padding": 0}, "axis": null},
                  "y": {"field": "lane", "type": "nominal", "scale": {"domain": ["line1","mid","line2"], "range": [15,29], "padding": 0}, "axis": null},
                  "detail": {"field": "branch", "type": "nominal"}}},
    {"data": {"values": [{"step":"to","lane":"line1"},{"step":"to","lane":"line2"}]},
     "mark": {"type": "point", "shape": "triangle-right", "filled": true, "size": 12, "color": "#808080", "opacity": 1},
     "encoding": {"x": {"field": "step", "type": "nominal"}, "y": {"field": "lane", "type": "nominal"}}},
    {"data": {"values": [{"step":"from","lane":"line1","text":"DIV14 network culture"}]},
     "mark": {"type": "text", "align": "center", "baseline": "middle", "dx": -57, "fontSize": 10, "color": "#1a1a1a"},
     "encoding": {"x": {"field": "step", "type": "nominal"}, "y": {"field": "lane", "type": "nominal"}, "text": {"field": "text"}}},
    {"data": {"values": [{"step":"from","lane":"line2","text":"ΔCre /Cre in"}]},
     "mark": {"type": "text", "align": "right", "baseline": "middle", "dx": -54, "fontSize": 10, "color": "#1a1a1a"},
     "encoding": {"x": {"field": "step", "type": "nominal"}, "y": {"field": "lane", "type": "nominal"}, "text": {"field": "text"}}},
    {"data": {"values": [{"step":"from","lane":"line2","text":"Stxbp5/5lᶠˡˣ"}]},
     "mark": {"type": "text", "align": "left", "baseline": "middle", "dx": -51, "fontSize": 10, "fontStyle": "italic", "color": "#1a1a1a"},
     "encoding": {"x": {"field": "step", "type": "nominal"}, "y": {"field": "lane", "type": "nominal"}, "text": {"field": "text"}}},
    {"data": {"values": [{"step":"to","lane":"line1","text":"6h TTX (block firing)"},{"step":"to","lane":"line2","text":"6h TTX/PTX (block inhibitory input in the absence of firing)"}]},
     "mark": {"type": "text", "align": "left", "baseline": "middle", "dx": 6, "fontSize": 10, "color": "#1a1a1a"},
     "encoding": {"x": {"field": "step", "type": "nominal"}, "y": {"field": "lane", "type": "nominal"}, "text": {"field": "text"}}}
  ]
},
{"width": 1, "height": 14, "data": {"values": [{}]}, "mark": {"type": "text", "text": ""}, "encoding": {}},
{
  "hconcat": [
    {
      "width": 92, "height": 115,
      "title": {"text": "Bdnf transcript 1", "offset": -3},
      "layer": [
        {"data": {"name": "bars"}, "transform": [{"filter": "datum.panel === 'b1B'"}],
         "mark": {"type": "bar", "strokeWidth": 1.2},
         "encoding": {
           "x": {"field": "condition", "type": "nominal", "scale": {"domain": ["TTX","TTX/PTX"], "paddingInner": 0.48, "paddingOuter": 0.15}, "axis": {"title": null, "labelFontSize": 12, "labelOverlap": false}},
           "xOffset": {"field": "genotype", "type": "nominal", "scale": {"domain": ["ΔCre","Cre"], "paddingInner": 0.3}},
           "y": {"field": "value", "type": "quantitative", "scale": {"domain": [0,2], "nice": false}, "axis": {"values": [0,0.5,1,1.5,2], "tickCount": 20, "labelOverlap": false, "format": ".1f", "title": "FC relative to ΔCre-TTX", "minExtent": 20, "maxExtent": 20}},
           "fill": {"field": "genotype", "type": "nominal", "scale": {"domain": ["ΔCre","Cre"], "range": ["#6d6d6d","#f6a08f"]}, "legend": null},
           "stroke": {"field": "genotype", "type": "nominal", "scale": {"domain": ["ΔCre","Cre"], "range": ["#1a1a1a","#e0402e"]}, "legend": null}}},
        {"data": {"name": "dots"}, "transform": [{"filter": "datum.panel === 'b1B'"}],
         "mark": {"type": "line", "color": "#2a2a2a", "strokeWidth": 0.8},
         "encoding": {"x": {"field": "condition", "type": "nominal"}, "xOffset": {"field": "genotype", "type": "nominal"}, "y": {"field": "value", "type": "quantitative"}, "detail": [{"field": "condition", "type": "nominal"}, {"field": "replicate", "type": "nominal"}]}},
        {"data": {"name": "dots"}, "transform": [{"filter": "datum.panel === 'b1B'"}],
         "mark": {"type": "circle", "size": 13, "opacity": 1},
         "encoding": {"x": {"field": "condition", "type": "nominal"}, "xOffset": {"field": "genotype", "type": "nominal"}, "y": {"field": "value", "type": "quantitative"}, "color": {"field": "genotype", "type": "nominal", "scale": {"domain": ["ΔCre","Cre"], "range": ["#1a1a1a","#e3342f"]}, "legend": null}}},
        {"data": {"name": "sig"}, "transform": [{"filter": "datum.panel === 'b1B'"}],
         "mark": {"type": "tick", "orient": "horizontal", "size": 21, "thickness": 1.3, "color": "#8c8c8c"},
         "encoding": {"x": {"field": "condition", "type": "nominal"}, "y": {"field": "level", "type": "quantitative"}}},
        {"data": {"name": "sig"}, "transform": [{"filter": "datum.panel === 'b1B'"}],
         "mark": {"type": "text", "baseline": "alphabetic", "dy": 3, "fontSize": 11},
         "encoding": {"x": {"field": "condition", "type": "nominal"}, "y": {"field": "level", "type": "quantitative"}, "text": {"field": "label"}}}
      ]
    },
    {
      "width": 92, "height": 115,
      "title": {"text": "Bdnf transcript 4", "offset": -3},
      "layer": [
        {"data": {"name": "bars"}, "transform": [{"filter": "datum.panel === 'b4B'"}],
         "mark": {"type": "bar", "strokeWidth": 1.2},
         "encoding": {
           "x": {"field": "condition", "type": "nominal", "scale": {"domain": ["TTX","TTX/PTX"], "paddingInner": 0.48, "paddingOuter": 0.15}, "axis": {"title": null, "labelFontSize": 12, "labelOverlap": false}},
           "xOffset": {"field": "genotype", "type": "nominal", "scale": {"domain": ["ΔCre","Cre"], "paddingInner": 0.3}},
           "y": {"field": "value", "type": "quantitative", "scale": {"domain": [0,1.5], "nice": false}, "axis": {"values": [0,0.5,1,1.5], "tickCount": 20, "labelOverlap": false, "format": ".1f", "title": null, "minExtent": 20, "maxExtent": 20}},
           "fill": {"field": "genotype", "type": "nominal", "scale": {"domain": ["ΔCre","Cre"], "range": ["#6d6d6d","#f6a08f"]}, "legend": null},
           "stroke": {"field": "genotype", "type": "nominal", "scale": {"domain": ["ΔCre","Cre"], "range": ["#1a1a1a","#e0402e"]}, "legend": null}}},
        {"data": {"name": "dots"}, "transform": [{"filter": "datum.panel === 'b4B'"}],
         "mark": {"type": "line", "color": "#2a2a2a", "strokeWidth": 0.8},
         "encoding": {"x": {"field": "condition", "type": "nominal"}, "xOffset": {"field": "genotype", "type": "nominal"}, "y": {"field": "value", "type": "quantitative"}, "detail": [{"field": "condition", "type": "nominal"}, {"field": "replicate", "type": "nominal"}]}},
        {"data": {"name": "dots"}, "transform": [{"filter": "datum.panel === 'b4B'"}],
         "mark": {"type": "circle", "size": 13, "opacity": 1},
         "encoding": {"x": {"field": "condition", "type": "nominal"}, "xOffset": {"field": "genotype", "type": "nominal"}, "y": {"field": "value", "type": "quantitative"}, "color": {"field": "genotype", "type": "nominal", "scale": {"domain": ["ΔCre","Cre"], "range": ["#1a1a1a","#e3342f"]}, "legend": null}}},
        {"data": {"name": "sig"}, "transform": [{"filter": "datum.panel === 'b4B'"}],
         "mark": {"type": "tick", "orient": "horizontal", "size": 21, "thickness": 1.3, "color": "#8c8c8c"},
         "encoding": {"x": {"field": "condition", "type": "nominal"}, "y": {"field": "level", "type": "quantitative"}}},
        {"data": {"name": "sig"}, "transform": [{"filter": "datum.panel === 'b4B'"}],
         "mark": {"type": "text", "baseline": "alphabetic", "dy": 3, "fontSize": 11},
         "encoding": {"x": {"field": "condition", "type": "nominal"}, "y": {"field": "level", "type": "quantitative"}, "text": {"field": "label"}}}
      ]
    },
    {
      "width": 90, "height": 115,
      "title": {"text": "Pcsk1", "offset": -3},
      "layer": [
        {"data": {"name": "bars"}, "transform": [{"filter": "datum.panel === 'pcB'"}],
         "mark": {"type": "bar", "strokeWidth": 1.2},
         "encoding": {
           "x": {"field": "condition", "type": "nominal", "scale": {"domain": ["TTX","TTX/PTX"], "paddingInner": 0.48, "paddingOuter": 0.15}, "axis": {"title": null, "labelFontSize": 12, "labelOverlap": false}},
           "xOffset": {"field": "genotype", "type": "nominal", "scale": {"domain": ["ΔCre","Cre"], "paddingInner": 0.3}},
           "y": {"field": "value", "type": "quantitative", "scale": {"domain": [0,1.5], "nice": false}, "axis": {"values": [0,0.5,1,1.5], "tickCount": 20, "labelOverlap": false, "format": ".1f", "title": null, "minExtent": 20, "maxExtent": 20}},
           "fill": {"field": "genotype", "type": "nominal", "scale": {"domain": ["ΔCre","Cre"], "range": ["#6d6d6d","#f6a08f"]}, "legend": null},
           "stroke": {"field": "genotype", "type": "nominal", "scale": {"domain": ["ΔCre","Cre"], "range": ["#1a1a1a","#e0402e"]}, "legend": null}}},
        {"data": {"name": "dots"}, "transform": [{"filter": "datum.panel === 'pcB'"}],
         "mark": {"type": "line", "color": "#2a2a2a", "strokeWidth": 0.8},
         "encoding": {"x": {"field": "condition", "type": "nominal"}, "xOffset": {"field": "genotype", "type": "nominal"}, "y": {"field": "value", "type": "quantitative"}, "detail": [{"field": "condition", "type": "nominal"}, {"field": "replicate", "type": "nominal"}]}},
        {"data": {"name": "dots"}, "transform": [{"filter": "datum.panel === 'pcB'"}],
         "mark": {"type": "circle", "size": 13, "opacity": 1},
         "encoding": {"x": {"field": "condition", "type": "nominal"}, "xOffset": {"field": "genotype", "type": "nominal"}, "y": {"field": "value", "type": "quantitative"}, "color": {"field": "genotype", "type": "nominal", "scale": {"domain": ["ΔCre","Cre"], "range": ["#1a1a1a","#e3342f"]}, "legend": null}}},
        {"data": {"name": "sig"}, "transform": [{"filter": "datum.panel === 'pcB'"}],
         "mark": {"type": "tick", "orient": "horizontal", "size": 21, "thickness": 1.3, "color": "#8c8c8c"},
         "encoding": {"x": {"field": "condition", "type": "nominal"}, "y": {"field": "level", "type": "quantitative"}}},
        {"data": {"name": "sig"}, "transform": [{"filter": "datum.panel === 'pcB'"}],
         "mark": {"type": "text", "baseline": "alphabetic", "dy": 3, "fontSize": 11},
         "encoding": {"x": {"field": "condition", "type": "nominal"}, "y": {"field": "level", "type": "quantitative"}, "text": {"field": "label"}}}
      ]
    },
    {
      "width": 80, "height": 115,
      "title": {"text": "Vgf", "offset": -3},
      "layer": [
        {"data": {"name": "bars"}, "transform": [{"filter": "datum.panel === 'vgB'"}],
         "mark": {"type": "bar", "strokeWidth": 1.2},
         "encoding": {
           "x": {"field": "condition", "type": "nominal", "scale": {"domain": ["TTX","TTX/PTX"], "paddingInner": 0.48, "paddingOuter": 0.15}, "axis": {"title": null, "labelFontSize": 12, "labelOverlap": false}},
           "xOffset": {"field": "genotype", "type": "nominal", "scale": {"domain": ["ΔCre","Cre"], "paddingInner": 0.3}},
           "y": {"field": "value", "type": "quantitative", "scale": {"domain": [0,2], "nice": false}, "axis": {"values": [0,0.5,1,1.5,2], "tickCount": 20, "labelOverlap": false, "format": ".1f", "title": null, "minExtent": 20, "maxExtent": 20}},
           "fill": {"field": "genotype", "type": "nominal", "scale": {"domain": ["ΔCre","Cre"], "range": ["#6d6d6d","#f6a08f"]}, "legend": {"orient": "none", "legendX": 86, "legendY": -6, "symbolSize": 150, "rowPadding": -4}},
           "stroke": {"field": "genotype", "type": "nominal", "scale": {"domain": ["ΔCre","Cre"], "range": ["#1a1a1a","#e0402e"]}, "legend": {"orient": "none", "legendX": 86, "legendY": -6, "symbolSize": 150, "rowPadding": -4}}}},
        {"data": {"name": "dots"}, "transform": [{"filter": "datum.panel === 'vgB'"}],
         "mark": {"type": "line", "color": "#2a2a2a", "strokeWidth": 0.8},
         "encoding": {"x": {"field": "condition", "type": "nominal"}, "xOffset": {"field": "genotype", "type": "nominal"}, "y": {"field": "value", "type": "quantitative"}, "detail": [{"field": "condition", "type": "nominal"}, {"field": "replicate", "type": "nominal"}]}},
        {"data": {"name": "dots"}, "transform": [{"filter": "datum.panel === 'vgB'"}],
         "mark": {"type": "circle", "size": 13, "opacity": 1},
         "encoding": {"x": {"field": "condition", "type": "nominal"}, "xOffset": {"field": "genotype", "type": "nominal"}, "y": {"field": "value", "type": "quantitative"}, "color": {"field": "genotype", "type": "nominal", "scale": {"domain": ["ΔCre","Cre"], "range": ["#1a1a1a","#e3342f"]}, "legend": null}}},
        {"data": {"name": "sig"}, "transform": [{"filter": "datum.panel === 'vgB'"}],
         "mark": {"type": "tick", "orient": "horizontal", "size": 21, "thickness": 1.3, "color": "#8c8c8c"},
         "encoding": {"x": {"field": "condition", "type": "nominal"}, "y": {"field": "level", "type": "quantitative"}}},
        {"data": {"name": "sig"}, "transform": [{"filter": "datum.panel === 'vgB'"}],
         "mark": {"type": "text", "baseline": "alphabetic", "dy": 3, "fontSize": 11},
         "encoding": {"x": {"field": "condition", "type": "nominal"}, "y": {"field": "level", "type": "quantitative"}, "text": {"field": "label"}}}
      ]
    }
  ],
  "spacing": 43,
  "bounds": "flush",
  "resolve": {"scale": {"x": "independent", "y": "independent", "fill": "independent", "stroke": "independent", "color": "independent"}, "legend": {"fill": "independent", "stroke": "independent", "color": "independent"}}
}
]
}
